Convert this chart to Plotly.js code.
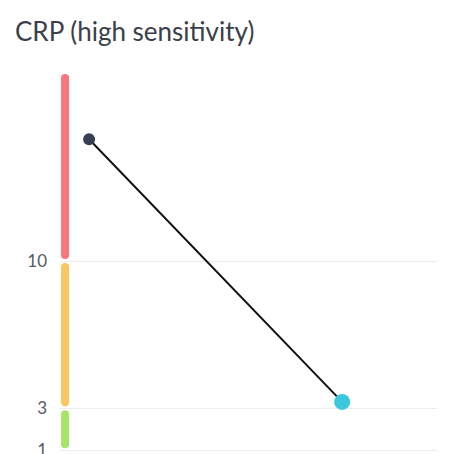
<!DOCTYPE html>
<html>
<head>
<meta charset="utf-8">
<script src="https://cdn.plot.ly/plotly-3.0.1.min.js"></script>
<style>
  html, body { margin: 0; padding: 0; background: #ffffff; }
  #grafico-crp { width: 454px; height: 454px; }
</style>
</head>
<body>
<div id="grafico-crp"></div>
<script>
/* ============================================================================
 * Data
 * ========================================================================== */

// reference bands (mg/L), top to bottom
const bandLower = [10, 3, 1, 0];
const bandUpper = [19, 10, 3, 1];
const bandColors = ["#f7767f", "#fbc562", "#a6e46a", "#2ecc8f"];

// two readings
const readingX = [0, 1];
const readingValues = [15.8, 3.3];
const readingColors = ["#374151", "#3cc8dc"];
const readingSizes = [12, 16];

const tickValues = [1, 3, 10, 19];
const tickLabels = ["1", "3", "10", ""];


/* ============================================================================
 * Layout constants
 * ========================================================================== */

const WIDTH = 454;
const HEIGHT = 454;
const MARGIN = { l: 60, r: 17, t: 72, b: 0 };
const Y_RANGE = [0.82, 19];
const X_RANGE = [-0.115, 1.375];
const BAND_X = -0.095;
const BAND_WIDTH = 8;
const BAND_GAP_PX = 4;


/* ============================================================================
 * Traces
 * ========================================================================== */

function crearBandas() {
    const pxPorUnidad = (HEIGHT - MARGIN.t - MARGIN.b) / (Y_RANGE[1] - Y_RANGE[0]);
    // pull each end in by the round cap radius plus half of the gap
    const inset = (BAND_WIDTH / 2 + BAND_GAP_PX / 2) / pxPorUnidad;

    return bandLower.map((lo, i) => ({
        type: "scatter",
        mode: "lines+markers",
        x: [BAND_X, BAND_X],
        y: [lo + inset, bandUpper[i] - inset],
        line: { color: bandColors[i], width: BAND_WIDTH },
        marker: { color: bandColors[i], size: BAND_WIDTH, opacity: 1, line: { width: 0 } },
        cliponaxis: false,
        hoverinfo: "skip",
        showlegend: false
    }));
}

function crearLecturas() {
    const linea = {
        type: "scatter",
        mode: "lines",
        x: readingX,
        y: readingValues,
        line: { color: "#111111", width: 2 },
        hoverinfo: "skip",
        showlegend: false
    };
    const puntos = {
        type: "scatter",
        mode: "markers",
        x: readingX,
        y: readingValues,
        marker: { color: readingColors, size: readingSizes, opacity: 1, line: { width: 0 } },
        cliponaxis: false,
        showlegend: false
    };
    return [linea, puntos];
}


/* ============================================================================
 * Plot
 * ========================================================================== */

function crearGrafico() {

    const layout = {
        width: WIDTH,
        height: HEIGHT,
        margin: MARGIN,
        paper_bgcolor: "#ffffff",
        plot_bgcolor: "#ffffff",
        font: { family: "Lato, 'Noto Sans', sans-serif", color: "#555a66" },
        title: {
            text: "CRP (high sensitivity)",
            x: 15 / WIDTH,
            xanchor: "left",
            xref: "container",
            y: 1 - 32 / HEIGHT,
            yanchor: "middle",
            yref: "container",
            font: { size: 26, color: "#3b3f4a", family: "Lato, 'Noto Sans', sans-serif" }
        },
        xaxis: {
            range: X_RANGE,
            showgrid: false,
            zeroline: false,
            showticklabels: false,
            showline: false,
            fixedrange: true
        },
        yaxis: {
            range: Y_RANGE,
            tickvals: tickValues,
            ticktext: tickLabels,
            showgrid: true,
            gridcolor: "#ececec",
            gridwidth: 1,
            zeroline: false,
            showline: false,
            ticks: "",
            ticklabelstandoff: 12,
            ticklabeloverflow: "allow",
            tickfont: { size: 17, color: "#555a66" },
            fixedrange: true
        }
    };

    Plotly.newPlot(
        "grafico-crp",
        [...crearBandas(), ...crearLecturas()],
        layout,
        { displayModeBar: false, staticPlot: true }
    );
}

document.addEventListener("DOMContentLoaded", () => {
    crearGrafico();
});
</script>
</body>
</html>
